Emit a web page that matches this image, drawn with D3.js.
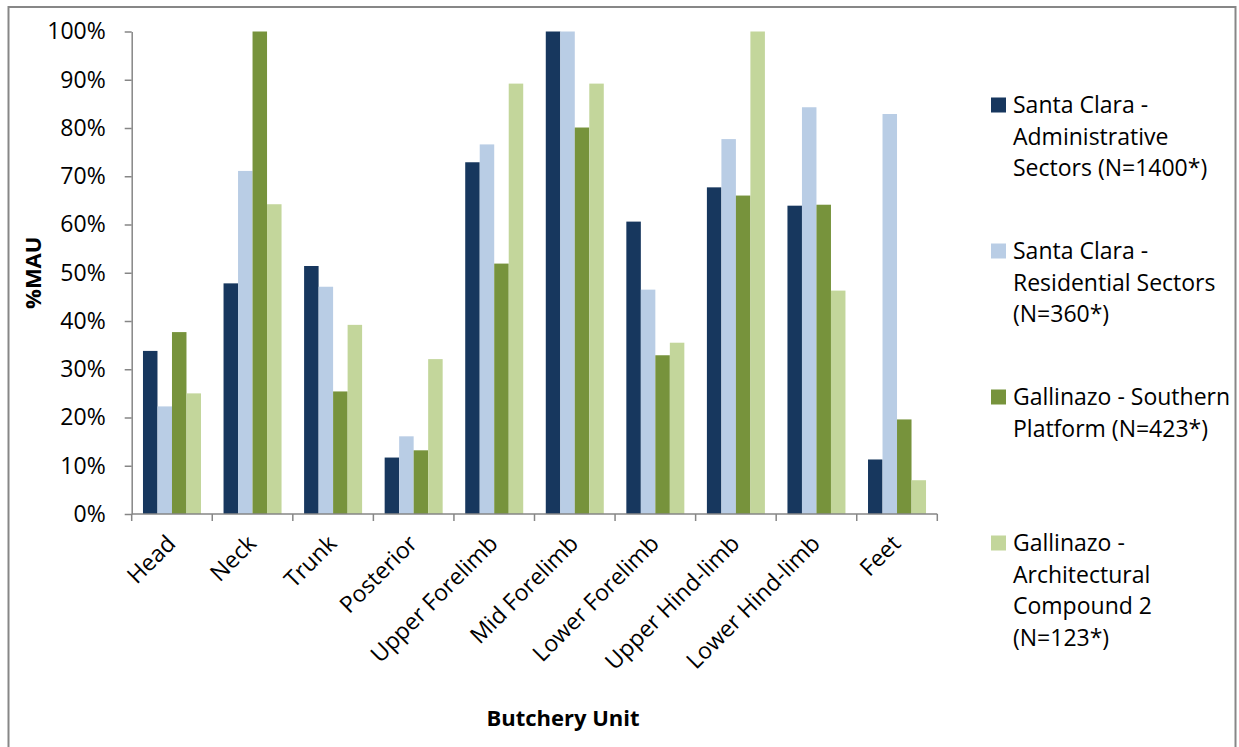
<!DOCTYPE html>
<html>
<head>
<meta charset="utf-8">
<script src="https://cdn.jsdelivr.net/npm/d3@7"></script>
<style>
  html, body { margin: 0; padding: 0; background: #fff; }
  svg { display: block; }
  text { font-family: "Open Sans", sans-serif; fill: #000; }
</style>
</head>
<body>
<div id="chart"></div>
<script>
const categories = ["Head", "Neck", "Trunk", "Posterior", "Upper Forelimb", "Mid Forelimb", "Lower Forelimb", "Upper Hind-limb", "Lower Hind-limb", "Feet"];
const seriesNames = ["Santa Clara - Administrative Sectors (N=1400*)", "Santa Clara - Residential Sectors (N=360*)", "Gallinazo - Southern Platform (N=423*)", "Gallinazo - Architectural Compound 2 (N=123*)"];
const legendLines = [
  ["Santa Clara -", "Administrative", "Sectors (N=1400*)"],
  ["Santa Clara -", "Residential Sectors", "(N=360*)"],
  ["Gallinazo - Southern", "Platform (N=423*)"],
  ["Gallinazo -", "Architectural", "Compound 2", "(N=123*)"]
];
const adminSectors = [33.8, 47.8, 51.4, 11.7, 72.9, 100, 60.6, 67.7, 63.9, 11.3];
const residentialSectors = [22.3, 71.1, 47.1, 16.1, 76.6, 100, 46.5, 77.7, 84.3, 82.9];
const southernPlatform = [37.7, 100, 25.4, 13.2, 51.9, 80.1, 32.9, 66.0, 64.1, 19.6];
const compound2 = [25.0, 64.2, 39.2, 32.1, 89.2, 89.2, 35.5, 100, 46.3, 7.0];
const yTicks = [0, 10, 20, 30, 40, 50, 60, 70, 80, 90, 100];
const colors = ["#17375E", "#B9CDE5", "#77933C", "#C3D69B"];

const series = [adminSectors, residentialSectors, southernPlatform, compound2];

const W = 1239, H = 747;
const svg = d3.select("#chart").append("svg").attr("width", W).attr("height", H);

// outer chart border
svg.append("rect")
  .attr("x", 8.5).attr("y", 7).attr("width", 1227).attr("height", 780)
  .attr("fill", "none").attr("stroke", "#878787").attr("stroke-width", 2);

const plot = { left: 131.7, right: 937.3, top: 31.5, bottom: 514 };

const x = d3.scaleBand().domain(categories).range([plot.left, plot.right]).paddingInner(0.28).paddingOuter(0.14);
const xs = d3.scaleBand().domain(d3.range(series.length)).range([0, x.bandwidth()]).padding(0);
const y = d3.scaleLinear().domain([0, 100]).range([plot.bottom, plot.top]);

// bars
series.forEach((vals, si) => {
  svg.append("g").selectAll("rect")
    .data(vals)
    .join("rect")
    .attr("x", (d, i) => x(categories[i]) + xs(si))
    .attr("y", d => y(d))
    .attr("width", xs.bandwidth())
    .attr("height", d => y(0) - y(d))
    .attr("fill", colors[si]);
});

// y axis
const yAxis = svg.append("g")
  .attr("transform", `translate(${plot.left},0)`)
  .call(d3.axisLeft(y).tickValues(yTicks).tickFormat(d => d + "%").tickSize(7).tickPadding(19).tickSizeOuter(0));
yAxis.select(".domain").attr("stroke", "#868686").attr("stroke-width", 1.5);
yAxis.selectAll(".tick line").attr("stroke", "#868686").attr("stroke-width", 1.5);
yAxis.selectAll(".tick text").attr("font-family", "Open Sans").attr("font-size", 23).attr("fill", "#000");

// x axis (ticks at category boundaries)
const xAxisG = svg.append("g").attr("transform", `translate(0,${plot.bottom})`);
const step = x.step();
const boundaries = d3.range(categories.length + 1).map(i => plot.left + i * step);
xAxisG.append("line")
  .attr("x1", plot.left).attr("x2", plot.right).attr("y1", 0).attr("y2", 0)
  .attr("stroke", "#868686").attr("stroke-width", 1.5);
xAxisG.selectAll("line.tk").data(boundaries).join("line").attr("class", "tk")
  .attr("x1", d => d).attr("x2", d => d).attr("y1", 0).attr("y2", 7)
  .attr("stroke", "#868686").attr("stroke-width", 1.5);

// x labels rotated
xAxisG.selectAll("text.lbl").data(categories).join("text").attr("class", "lbl")
  .attr("transform", d => `translate(${x(d) + x.bandwidth() / 2 + 5},31) rotate(-45)`)
  .attr("text-anchor", "end")
  .attr("font-size", 23)
  .text(d => d);

// axis titles
svg.append("text")
  .attr("transform", `translate(41,${(plot.top + plot.bottom) / 2}) rotate(-90)`)
  .attr("text-anchor", "middle")
  .attr("font-size", 22).attr("font-weight", "bold")
  .text("%MAU");

svg.append("text")
  .attr("x", 563).attr("y", 726)
  .attr("text-anchor", "middle")
  .attr("font-size", 22).attr("font-weight", "bold")
  .text("Butchery Unit");

// legend
const legend = svg.append("g");
legendLines.forEach((lines, i) => {
  const cy = 105 + 146 * i;
  legend.append("rect")
    .attr("x", 991).attr("y", cy - 7.5).attr("width", 15).attr("height", 15)
    .attr("fill", colors[i]);
  lines.forEach((ln, j) => {
    legend.append("text")
      .attr("x", 1013).attr("y", cy + 31.5 * j)
      .attr("dy", "0.36em")
      .attr("font-size", 23)
      .text(ln);
  });
});
</script>
</body>
</html>
